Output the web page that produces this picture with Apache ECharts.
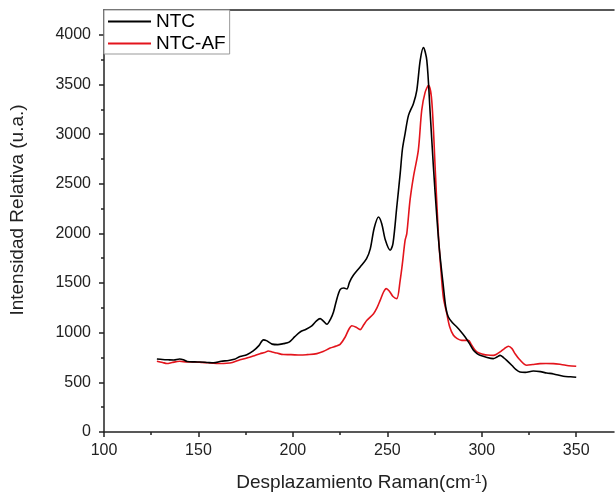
<!DOCTYPE html>
<html>
<head>
<meta charset="utf-8">
<script src="https://cdn.jsdelivr.net/npm/echarts@6/dist/echarts.min.js"></script>
<style>html,body{margin:0;padding:0;background:#fff;}#c{width:616px;height:495px;}</style>
</head>
<body>
<div id="c"></div>
<script>
const seriesNames = ['NTC', 'NTC-AF'];
const xMajorTicks = [100, 150, 200, 250, 300, 350];
const xMinorTicks = [125, 175, 225, 275, 325];
const yMajorTicks = [0, 500, 1000, 1500, 2000, 2500, 3000, 3500, 4000];
const yMinorTicks = [250, 750, 1250, 1750, 2250, 2750, 3250, 3750];

const ntcX = [128,131,134,137,140,142,144,148,151,155,158,162,166,169,172,175.6,179,182,184.4,186,189,192,195,198,201,204,207,210,212.5,214.4,216,218,220,221.5,223,225,227,228.6,230,232,235.6,239,241,243,245.3,247,249,251.5,253,255,256.8,258,259.4,261.2,263.8,265.6,267.4,269.1,270.9,272.6,274.4,276.2,277.6,279.7,281,282.3,284.5,286.8,289,291.2,293.5,295.6,297.5,299.1,302,306.1,308,309.7,311.5,313.2,316,318,320.2,323,327.3,331,334.4,338,343.2,347,350];
const ntcY = [735,730,727,725,735,728,710,706,705,700,697,712,720,732,760,779,816,870,928,920,885,880,890,905,960,1010,1035,1070,1120,1142,1120,1085,1140,1209,1320,1434,1450,1440,1510,1578,1662,1746,1847,2050,2165,2100,1930,1830,1900,2266,2602,2850,3005,3189,3307,3441,3743,3871,3743,3239,2669,2165,1830,1460,1250,1158,1100,1057,1010,957,890,823,790,772,755,739,755,772,750,722,670,630,604,600,614,608,594,585,561,556,552];

const afX = [128,131,133.3,136,140,144,148,152,155,158,161,165,168,171,175.6,179,182.6,185,187,189,191.5,195,199,203.9,207.4,212.7,216,219.7,223,225,227.7,229.5,231.2,233.5,235.6,237.5,239.2,242.7,244.5,246.2,248,249.4,251,253,255,256.8,258,259.4,260.3,262,263.8,266.4,268.2,270,271.8,273.5,275.3,277,278.5,279.7,281.5,283,285,287,289.4,292.9,294.5,296.5,298.5,300.8,303,306.1,308,309.7,312,314.1,316,317.6,320,323.8,327,330.8,334,337.9,342,346,350];
const afY = [712,700,690,700,712,705,705,700,697,692,690,692,700,720,745,765,789,800,816,805,795,780,779,775,779,789,810,845,865,883,957,1030,1070,1055,1031,1080,1125,1192,1250,1326,1410,1444,1420,1365,1343,1528,1700,1930,1998,2333,2568,2837,3239,3420,3492,3340,2669,1998,1600,1350,1192,1060,974,940,923,923,880,823,795,782,775,772,785,806,840,863,840,789,730,672,680,689,690,689,680,668,662];

const FONT = "'Liberation Sans', Arial, sans-serif";
const axisColor = '#222';
const pair = (xs, ys) => xs.map((x, i) => [x, ys[i]]);

const X_MIN = 100, X_MAX = 370, Y_MIN = 0, Y_MAX = 4250;

const chart = echarts.init(document.getElementById('c'), null, {renderer: 'canvas'});
chart.setOption({
  animation: false,
  backgroundColor: '#fff',
  grid: {left: 104, top: 10, width: 510, height: 422, containLabel: false},
  legend: {
    data: seriesNames,
    orient: 'vertical',
    left: 104, top: 10,
    padding: [2, 4, 1, 4],
    itemWidth: 43, itemHeight: 18, itemGap: 3,
    icon: 'path://M0,0 L43,0 L43,2 L0,2 Z',
    symbolKeepAspect: true,
    backgroundColor: '#fff',
    borderColor: '#999', borderWidth: 1,
    textStyle: {fontSize: 19, color: '#000', fontFamily: FONT}
  },
  xAxis: [
    {
      type: 'value', position: 'bottom', min: X_MIN, max: X_MAX, interval: 50,
      splitLine: {show: false},
      axisLine: {show: true, onZero: false, lineStyle: {color: axisColor, width: 1.5}},
      axisTick: {show: true, customValues: xMajorTicks, length: 5, inside: false, lineStyle: {color: axisColor, width: 1.5}},
      axisLabel: {customValues: xMajorTicks, margin: 11, fontSize: 16, color: '#222', fontFamily: FONT, formatter: v => String(v)}
    },
    {
      type: 'value', position: 'bottom', min: X_MIN, max: X_MAX,
      splitLine: {show: false},
      axisLine: {show: false, onZero: false},
      axisTick: {show: true, customValues: xMinorTicks, length: 3, lineStyle: {color: axisColor, width: 1.5}},
      axisLabel: {show: false}
    },
    {
      type: 'value', position: 'top', min: X_MIN, max: X_MAX,
      splitLine: {show: false},
      axisLine: {show: true, onZero: false, lineStyle: {color: axisColor, width: 1.5}},
      axisTick: {show: false},
      axisLabel: {show: false}
    }
  ],
  yAxis: [
    {
      type: 'value', position: 'left', min: Y_MIN, max: Y_MAX, interval: 500,
      splitLine: {show: false},
      axisLine: {show: true, onZero: false, lineStyle: {color: axisColor, width: 1.5}},
      axisTick: {show: true, customValues: yMajorTicks, length: 5, lineStyle: {color: axisColor, width: 1.5}},
      axisLabel: {customValues: yMajorTicks, margin: 13, fontSize: 16, color: '#222', fontFamily: FONT, formatter: v => String(v)}
    },
    {
      type: 'value', position: 'left', min: Y_MIN, max: Y_MAX,
      splitLine: {show: false},
      axisLine: {show: false, onZero: false},
      axisTick: {show: true, customValues: yMinorTicks, length: 3, lineStyle: {color: axisColor, width: 1.5}},
      axisLabel: {show: false}
    }
  ],
  series: [
    {
      name: seriesNames[0], type: 'line', xAxisIndex: 0, yAxisIndex: 0,
      data: pair(ntcX, ntcY), symbol: 'none', smooth: 0.3,
      lineStyle: {color: '#000', width: 1.6}, itemStyle: {color: '#000'}, z: 3
    },
    {
      name: seriesNames[1], type: 'line', xAxisIndex: 0, yAxisIndex: 0,
      data: pair(afX, afY), symbol: 'none', smooth: 0.3,
      lineStyle: {color: '#e3141c', width: 1.6}, itemStyle: {color: '#e3141c'}, z: 2
    }
  ],
  graphic: [
    {
      type: 'text', x: 18, y: 210, rotation: Math.PI / 2,
      style: {text: 'Intensidad Relativa (u.a.)', fontSize: 19, fontFamily: FONT, fill: '#222', align: 'center', verticalAlign: 'middle'}
    },
    {
      type: 'text', x: 362, y: 483,
      style: {
        text: 'Desplazamiento Raman(cm{sup|-1})',
        fontSize: 19, fontFamily: FONT, fill: '#222', align: 'center', verticalAlign: 'middle',
        rich: {sup: {fontSize: 12, fontFamily: FONT, fill: '#222', verticalAlign: 'top', lineHeight: 19}}
      }
    }
  ]
});
</script>
</body>
</html>
